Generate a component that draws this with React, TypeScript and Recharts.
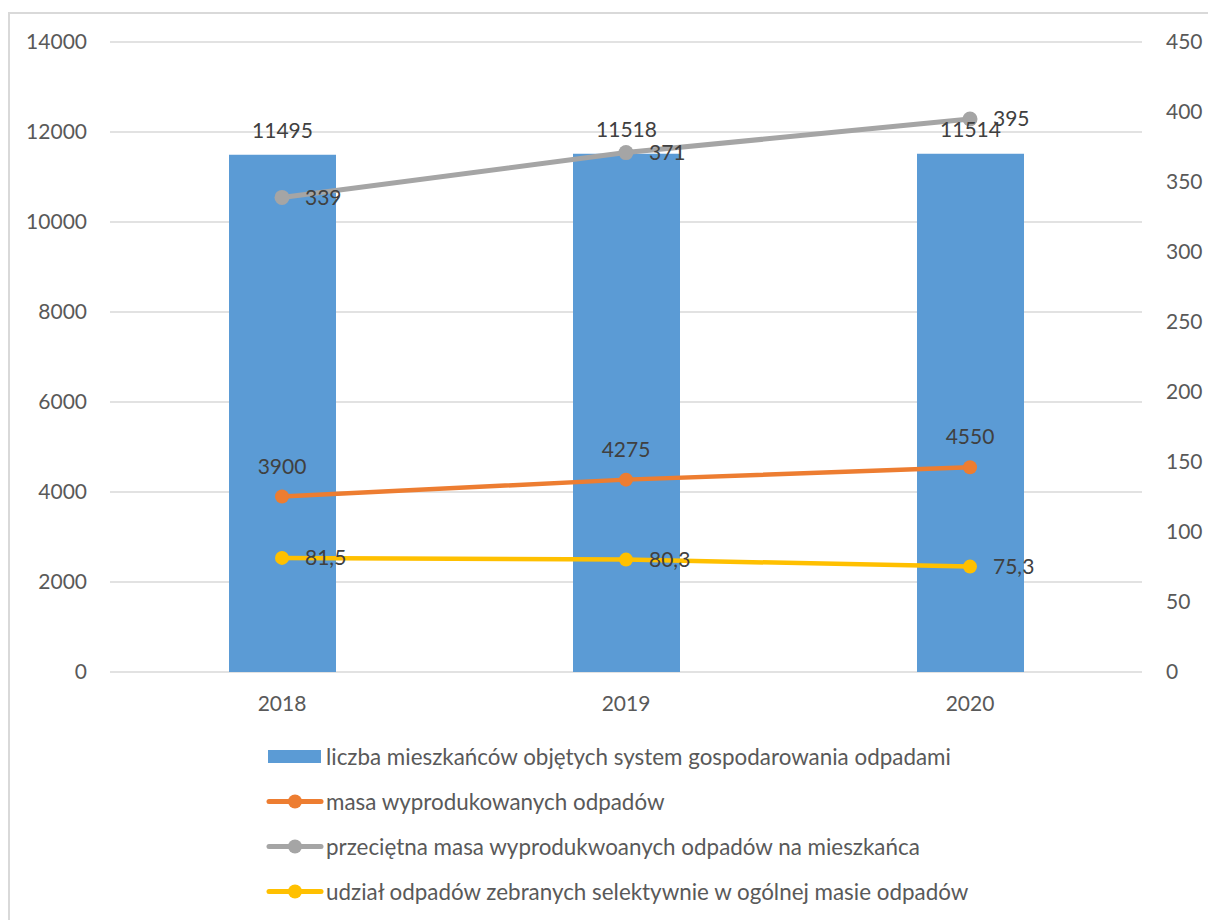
import React from 'react';
import { ComposedChart, Bar, Line, XAxis, YAxis, CartesianGrid, Legend, LabelList } from 'recharts';

const years = ['2018', '2019', '2020'];
const residents = [11495, 11518, 11514];
const wasteMass = [3900, 4275, 4550];
const wastePerResident = [339, 371, 395];
const selectiveShare = [81.5, 80.3, 75.3];
const leftTicks = [0, 2000, 4000, 6000, 8000, 10000, 12000, 14000];
const rightTicks = [0, 50, 100, 150, 200, 250, 300, 350, 400, 450];

const seriesNames = [
  'liczba mieszkańców objętych system gospodarowania odpadami',
  'masa wyprodukowanych odpadów',
  'przeciętna masa wyprodukwoanych odpadów na mieszkańca',
  'udział odpadów zebranych selektywnie w ogólnej masie odpadów',
];
const seriesColors = ['#5B9BD5', '#ED7D31', '#A5A5A5', '#FFC000'];

const data = years.map((y, i) => ({
  year: y,
  residents: residents[i],
  wasteMass: wasteMass[i],
  wastePerResident: wastePerResident[i],
  selectiveShare: selectiveShare[i],
}));

const FONT = 'Lato, "Liberation Sans", sans-serif';
const FS = 21;
const AXIS_TEXT = '#595959';
const LABEL_TEXT = '#404040';

const renderLegend = () => (
  <div style={{ display: 'flex', flexDirection: 'column', fontFamily: FONT, fontSize: 22.4, color: AXIS_TEXT }}>
    {seriesNames.map((name, i) => (
      <div key={name} style={{ display: 'flex', alignItems: 'center', height: 45, whiteSpace: 'nowrap' }}>
        <svg width={58} height={45} style={{ display: 'block' }}>
          {i === 0 ? (
            <rect x={2} y={16} width={53} height={13} fill={seriesColors[i]} />
          ) : (
            <g>
              <line x1={3} y1={22.5} x2={55} y2={22.5} stroke={seriesColors[i]} strokeWidth={5} strokeLinecap="round" />
              <circle cx={29} cy={22.5} r={7} fill={seriesColors[i]} />
            </g>
          )}
        </svg>
        <span style={{ marginLeft: 2 }}>{name}</span>
      </div>
    ))}
  </div>
);

export default function App() {
  return (
    <div style={{ position: 'absolute', left: 0, top: 0, width: 1208, height: 920, background: '#fff', overflow: 'hidden' }}>
      <div
        style={{
          position: 'absolute',
          left: 8,
          top: 12,
          width: 1300,
          height: 1000,
          border: '2px solid #D9D9D9',
          boxSizing: 'border-box',
        }}
      />
      <div style={{ position: 'absolute', left: 0, top: 0 }}>
        <ComposedChart width={1208} height={920} data={data} margin={{ top: 42, right: 0, bottom: 218, left: 0 }}>
          <CartesianGrid vertical={false} stroke="#D9D9D9" strokeWidth={1.5} yAxisId="left" />
          <XAxis
            dataKey="year"
            axisLine={false}
            tickLine={false}
            tickSize={0}
            tickMargin={24}
            height={30}
            tick={{ fill: AXIS_TEXT, fontSize: FS, fontFamily: FONT }}
          />
          <YAxis
            yAxisId="left"
            orientation="left"
            domain={[0, 14000]}
            ticks={leftTicks}
            width={110}
            axisLine={false}
            tickLine={false}
            tickSize={0}
            tickMargin={23}
            interval={0}
            tick={{ fill: AXIS_TEXT, fontSize: FS, fontFamily: FONT }}
          />
          <YAxis
            yAxisId="right"
            orientation="right"
            domain={[0, 450]}
            ticks={rightTicks}
            width={66}
            axisLine={false}
            tickLine={false}
            tickSize={0}
            tickMargin={24}
            interval={0}
            tick={{ fill: AXIS_TEXT, fontSize: FS, fontFamily: FONT }}
          />
          <Bar yAxisId="left" dataKey="residents" name={seriesNames[0]} fill={seriesColors[0]} barSize={107} isAnimationActive={false}>
            <LabelList dataKey="residents" position="top" offset={17} fill={LABEL_TEXT} fontSize={FS} fontFamily={FONT} />
          </Bar>
          <Line
            yAxisId="left"
            dataKey="wasteMass"
            name={seriesNames[1]}
            stroke={seriesColors[1]}
            strokeWidth={4.5}
            dot={{ r: 7, fill: seriesColors[1], stroke: seriesColors[1], strokeWidth: 0 }}
            activeDot={false}
            isAnimationActive={false}
          >
            <LabelList dataKey="wasteMass" position="top" offset={23} fill={LABEL_TEXT} fontSize={FS} fontFamily={FONT} />
          </Line>
          <Line
            yAxisId="right"
            dataKey="wastePerResident"
            name={seriesNames[2]}
            stroke={seriesColors[2]}
            strokeWidth={5}
            dot={{ r: 7.5, fill: seriesColors[2], stroke: seriesColors[2], strokeWidth: 0 }}
            activeDot={false}
            isAnimationActive={false}
          >
            <LabelList dataKey="wastePerResident" position="right" offset={23} fill={LABEL_TEXT} fontSize={FS} fontFamily={FONT} />
          </Line>
          <Line
            yAxisId="right"
            dataKey="selectiveShare"
            name={seriesNames[3]}
            stroke={seriesColors[3]}
            strokeWidth={4.5}
            dot={{ r: 7, fill: seriesColors[3], stroke: seriesColors[3], strokeWidth: 0 }}
            activeDot={false}
            isAnimationActive={false}
          >
            <LabelList
              dataKey="selectiveShare"
              position="right"
              offset={23}
              fill={LABEL_TEXT}
              fontSize={FS}
              fontFamily={FONT}
              formatter={(v: any) => String(v).replace('.', ',')}
            />
          </Line>
          <Legend
            layout="vertical"
            align="center"
            verticalAlign="middle"
            content={renderLegend}
            wrapperStyle={{ position: 'absolute', left: 266, top: 734, width: 800, height: 180 }}
          />
        </ComposedChart>
      </div>
    </div>
  );
}
